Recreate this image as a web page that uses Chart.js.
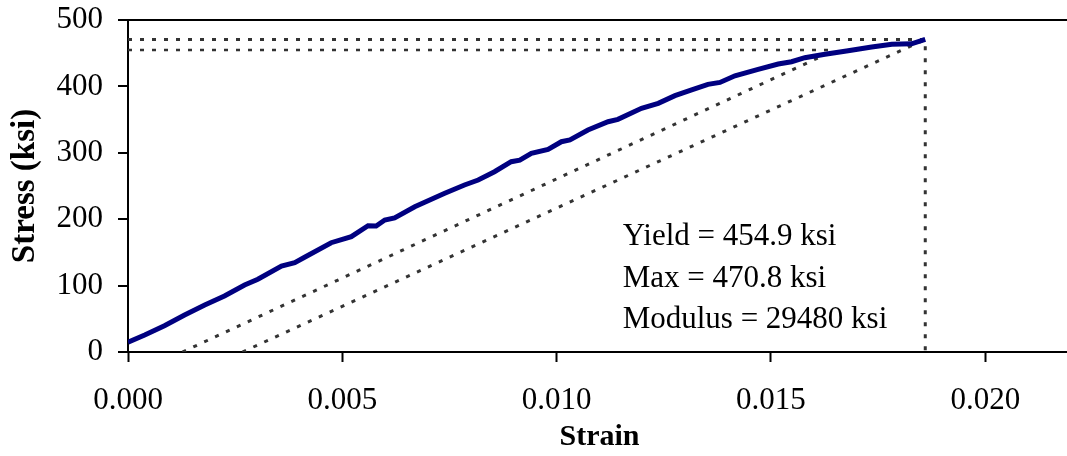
<!DOCTYPE html>
<html>
<head>
<meta charset="utf-8">
<script src="https://cdn.jsdelivr.net/npm/chart.js@4.4.1/dist/chart.umd.min.js"></script>
<style>
  html, body { margin: 0; padding: 0; background: #fff; overflow: hidden; }
  canvas { display: block; }
</style>
</head>
<body>
<canvas id="chart" width="1075" height="456"></canvas>
<script>
// ========= data =========

const strain = [
  0, 0.00039, 0.00085, 0.00132, 0.00179, 0.00225, 0.00272, 0.00303, 0.00358, 0.00389,
  0.00412, 0.00474, 0.00521, 0.0056, 0.00579, 0.00599, 0.00622, 0.00669, 0.00739, 0.00785,
  0.00817, 0.00855, 0.00894, 0.00914, 0.00941, 0.0098, 0.01011, 0.01031, 0.01073, 0.0112,
  0.01143, 0.01198, 0.01237, 0.01276, 0.01315, 0.01353, 0.01381, 0.01416, 0.0147, 0.01517,
  0.01548, 0.01579, 0.01626, 0.0168, 0.01735, 0.01782, 0.01828, 0.0186
];
const stress = [
  14.6, 25.6, 39.6, 55.7, 70.8, 84.3, 100.9, 109.5, 129.5, 134.5,
  142.6, 164.6, 173.7, 190.2, 189.8, 198.8, 202, 218.8, 239, 251.5,
  259, 271.5, 286.6, 289, 299.2, 305.2, 316.7, 319.3, 334.3, 346.8,
  350.4, 367, 374.5, 386, 394.6, 403, 406, 416, 425.7, 433.7,
  437.2, 443.2, 448.3, 453.8, 459.3, 463.4, 464.2, 470.8
];

const maxStress = 470.8;
const yieldStress = 454.9;
const strainAtMax = 0.0186;
const strainAtYield = 0.0165;
const offsetStartA = 0.00127;   // offset line ending at yield
const offsetStartB = 0.00267;   // offset line ending at max

const xTicks = [0, 0.005, 0.010, 0.015, 0.020];
const yTicks = [0, 100, 200, 300, 400, 500];

const notes = ["Yield = 454.9 ksi", "Max = 470.8 ksi", "Modulus = 29480 ksi"];
const noteStrain = 0.01154;
const noteStress = [161, 98.3, 36];

// ========= build =========

const FONT = "'Liberation Serif', 'Times New Roman', serif";
const curve = strain.map((s, i) => ({ x: s, y: stress[i] }));
const purple = curve.filter(p => p.x > 0.0011 && p.x < 0.0054);

function dotted(points, w) {
  return {
    data: points,
    showLine: true,
    borderColor: "#333",
    borderWidth: w,
    borderDash: [4, 8],
    pointRadius: 0
  };
}

const notePlugin = {
  id: "notes",
  afterDatasetsDraw(chart) {
    const { ctx, scales } = chart;
    ctx.save();
    ctx.fillStyle = "#000";
    ctx.font = "31px " + FONT;
    ctx.textBaseline = "alphabetic";
    notes.forEach((t, i) => {
      ctx.fillText(t, scales.x.getPixelForValue(noteStrain), scales.y.getPixelForValue(noteStress[i]));
    });
    ctx.restore();
  }
};

new Chart(document.getElementById("chart"), {
  type: "scatter",
  data: {
    datasets: [
      { data: curve, showLine: true, borderColor: "#000080", borderWidth: 5, pointRadius: 0 },
      { data: purple, showLine: true, borderColor: "#a02898", borderWidth: 1.5, pointRadius: 0 },
      dotted([{ x: 0, y: maxStress }, { x: strainAtMax, y: maxStress }, { x: strainAtMax, y: 0 }], 3),
      dotted([{ x: 0, y: yieldStress }, { x: strainAtYield, y: yieldStress }], 2.5),
      dotted([{ x: offsetStartA, y: 0 }, { x: strainAtYield, y: yieldStress }], 3),
      dotted([{ x: offsetStartB, y: 0 }, { x: strainAtMax, y: maxStress }], 3)
    ]
  },
  options: {
    responsive: false,
    animation: false,
    layout: { autoPadding: false, padding: { top: 20, right: 4, left: 0, bottom: 0 } },
    plugins: { legend: { display: false }, tooltip: { enabled: false } },
    scales: {
      x: {
        type: "linear",
        min: 0,
        max: 0.022,
        afterBuildTicks: s => { s.ticks = xTicks.map(v => ({ value: v })); },
        afterFit: s => { s.height = 104; s.paddingLeft = 0; s.paddingRight = 0; },
        ticks: {
          color: "#000",
          font: { family: FONT, size: 31 },
          padding: 20,
          maxRotation: 0,
          callback: v => v.toFixed(3)
        },
        grid: { drawOnChartArea: false, tickLength: 10, tickColor: "#000", tickWidth: 2 },
        border: { color: "#000", width: 2 },
        title: {
          display: true,
          text: "Strain",
          color: "#000",
          font: { family: FONT, size: 30, weight: "bold" },
          padding: { top: 0, bottom: 1 }
        }
      },
      y: {
        min: 0,
        max: 500,
        afterBuildTicks: s => { s.ticks = yTicks.map(v => ({ value: v })); },
        afterFit: s => { s.width = 128; s.paddingTop = 0; s.paddingBottom = 0; },
        ticks: {
          color: "#000",
          font: { family: FONT, size: 31 },
          padding: 15
        },
        grid: {
          color: c => (c.tick && c.tick.value === 500 ? "#000" : "rgba(0,0,0,0)"),
          lineWidth: 2,
          tickLength: 10,
          tickColor: "#000",
          tickWidth: 2
        },
        border: { color: "#000", width: 2 },
        title: {
          display: true,
          text: "Stress (ksi)",
          color: "#000",
          font: { family: FONT, size: 33, weight: "bold" },
          padding: { top: 6, bottom: 0 }
        }
      }
    }
  },
  plugins: [notePlugin]
});
</script>
</body>
</html>
